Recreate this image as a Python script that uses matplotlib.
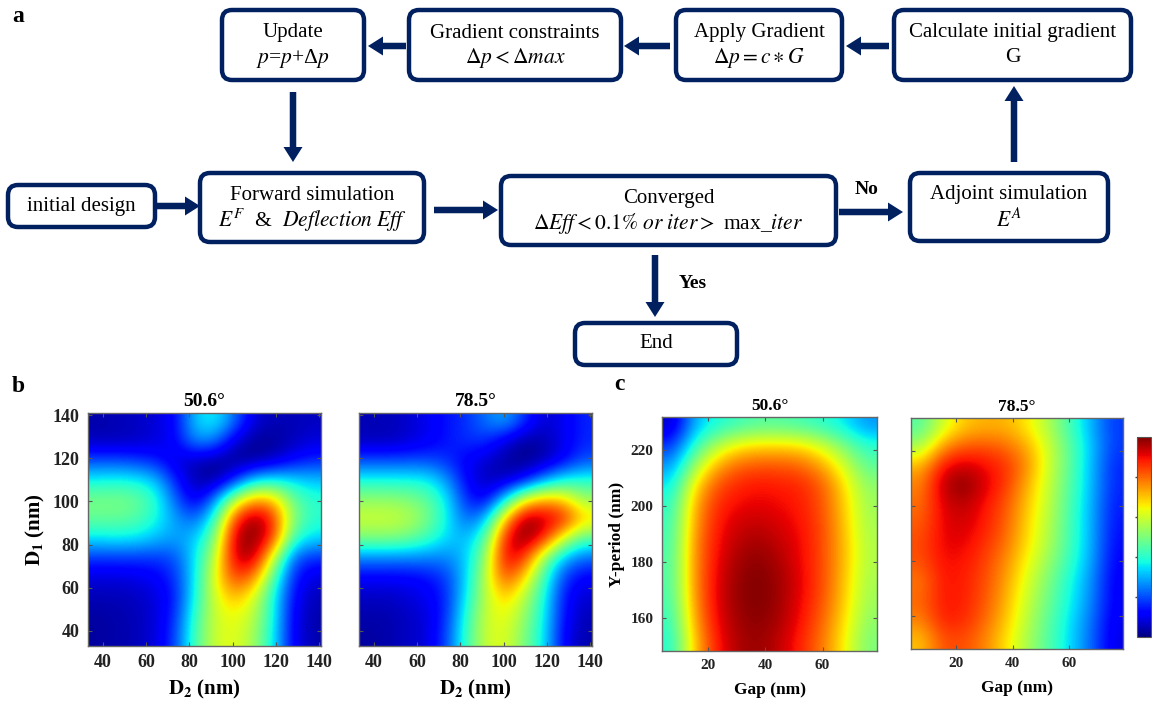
import numpy as np
import matplotlib.pyplot as plt
from matplotlib.patches import FancyBboxPatch, FancyArrow

plt.rcParams["font.family"] = "Liberation Serif"
plt.rcParams["mathtext.fontset"] = "stix"

navy = "#002060"

# ---- panel b : efficiency vs D2 (columns) and D1 (rows, top = 140 nm)
d2_nm = [37.5, 46.5, 55.5, 64.5, 73.5, 82.5, 91.5, 100.5, 109.5, 118.5, 127.5, 136.5]
d1_nm = [136.5, 127.5, 118.5, 109.5, 100.5, 91.5, 82.5, 73.5, 64.5, 55.5, 46.5, 37.5]

eff_b_506 = [
    [0.04, 0.05, 0.06, 0.08, 0.12, 0.33, 0.37, 0.24, 0.08, 0.05, 0.05, 0.06],
    [0.05, 0.05, 0.06, 0.08, 0.12, 0.27, 0.25, 0.08, 0.02, 0.02, 0.05, 0.08],
    [0.20, 0.20, 0.18, 0.15, 0.08, 0.05, 0.02, 0.01, 0.02, 0.06, 0.12, 0.16],
    [0.37, 0.38, 0.37, 0.32, 0.15, 0.04, 0.02, 0.15, 0.33, 0.37, 0.35, 0.32],
    [0.50, 0.50, 0.48, 0.40, 0.22, 0.08, 0.25, 0.57, 0.75, 0.72, 0.48, 0.40],
    [0.47, 0.47, 0.45, 0.38, 0.28, 0.22, 0.40, 0.85, 1.00, 0.88, 0.52, 0.40],
    [0.35, 0.36, 0.35, 0.31, 0.28, 0.32, 0.50, 0.95, 1.00, 0.86, 0.42, 0.34],
    [0.17, 0.17, 0.17, 0.17, 0.20, 0.35, 0.58, 0.93, 0.97, 0.60, 0.22, 0.16],
    [0.08, 0.08, 0.09, 0.11, 0.17, 0.36, 0.63, 0.85, 0.78, 0.45, 0.16, 0.08],
    [0.05, 0.05, 0.06, 0.08, 0.15, 0.38, 0.61, 0.72, 0.62, 0.38, 0.13, 0.05],
    [0.03, 0.04, 0.05, 0.08, 0.17, 0.42, 0.60, 0.64, 0.58, 0.38, 0.11, 0.04],
    [0.03, 0.04, 0.05, 0.08, 0.19, 0.44, 0.60, 0.63, 0.55, 0.36, 0.11, 0.04],
]

eff_b_785 = [
    [0.05, 0.05, 0.07, 0.10, 0.14, 0.17, 0.24, 0.30, 0.17, 0.07, 0.10, 0.16],
    [0.05, 0.05, 0.07, 0.10, 0.14, 0.17, 0.17, 0.08, 0.02, 0.04, 0.10, 0.16],
    [0.20, 0.20, 0.20, 0.20, 0.17, 0.11, 0.07, 0.03, 0.01, 0.04, 0.11, 0.20],
    [0.38, 0.38, 0.38, 0.37, 0.28, 0.12, 0.05, 0.05, 0.12, 0.27, 0.38, 0.40],
    [0.53, 0.53, 0.51, 0.47, 0.36, 0.16, 0.10, 0.35, 0.65, 0.75, 0.70, 0.54],
    [0.60, 0.60, 0.58, 0.50, 0.37, 0.22, 0.30, 0.72, 1.00, 0.95, 0.90, 0.70],
    [0.50, 0.50, 0.48, 0.42, 0.34, 0.30, 0.45, 0.90, 1.00, 0.88, 0.60, 0.44],
    [0.25, 0.25, 0.25, 0.25, 0.25, 0.32, 0.53, 0.93, 0.86, 0.52, 0.30, 0.22],
    [0.11, 0.11, 0.11, 0.13, 0.18, 0.33, 0.58, 0.84, 0.68, 0.42, 0.18, 0.11],
    [0.06, 0.06, 0.08, 0.10, 0.16, 0.36, 0.58, 0.70, 0.57, 0.38, 0.14, 0.07],
    [0.04, 0.04, 0.06, 0.08, 0.17, 0.40, 0.60, 0.64, 0.53, 0.36, 0.13, 0.05],
    [0.03, 0.04, 0.06, 0.08, 0.19, 0.42, 0.60, 0.62, 0.50, 0.35, 0.11, 0.04],
]

# ---- panel c : efficiency vs gap (columns) and Y-period (rows, top = 230 nm)
gap_nm = [7.75, 15.25, 22.75, 30.25, 37.75, 45.25, 52.75, 60.25, 67.75, 75.25]
yper_nm = [228.5, 221.5, 214.5, 207.5, 200.5, 193.5, 186.5, 179.5, 172.5, 165.5, 158.5, 151.5]

eff_c_506 = [
    [0.06, 0.30, 0.38, 0.42, 0.45, 0.45, 0.43, 0.40, 0.35, 0.27],
    [0.17, 0.40, 0.56, 0.65, 0.68, 0.68, 0.67, 0.60, 0.50, 0.40],
    [0.27, 0.53, 0.72, 0.80, 0.82, 0.82, 0.80, 0.73, 0.60, 0.46],
    [0.35, 0.66, 0.82, 0.87, 0.89, 0.88, 0.87, 0.81, 0.67, 0.52],
    [0.40, 0.72, 0.86, 0.90, 0.91, 0.90, 0.88, 0.82, 0.69, 0.54],
    [0.42, 0.74, 0.88, 0.93, 0.94, 0.92, 0.89, 0.83, 0.70, 0.55],
    [0.43, 0.76, 0.89, 0.95, 0.97, 0.94, 0.90, 0.83, 0.71, 0.56],
    [0.44, 0.76, 0.90, 0.97, 0.99, 0.96, 0.90, 0.83, 0.71, 0.56],
    [0.44, 0.76, 0.91, 0.98, 1.00, 0.97, 0.91, 0.83, 0.70, 0.55],
    [0.43, 0.75, 0.91, 0.98, 1.00, 0.97, 0.90, 0.82, 0.69, 0.54],
    [0.41, 0.73, 0.90, 0.97, 0.99, 0.96, 0.89, 0.80, 0.67, 0.52],
    [0.39, 0.70, 0.88, 0.96, 0.98, 0.94, 0.87, 0.78, 0.65, 0.50],
]

eff_c_785 = [
    [0.45, 0.60, 0.70, 0.72, 0.72, 0.66, 0.56, 0.43, 0.30, 0.18],
    [0.55, 0.76, 0.82, 0.83, 0.80, 0.73, 0.60, 0.46, 0.32, 0.18],
    [0.72, 0.90, 0.94, 0.90, 0.86, 0.76, 0.60, 0.46, 0.31, 0.16],
    [0.77, 0.95, 1.00, 0.92, 0.85, 0.72, 0.59, 0.45, 0.31, 0.16],
    [0.79, 0.92, 0.95, 0.89, 0.82, 0.70, 0.58, 0.44, 0.30, 0.15],
    [0.81, 0.91, 0.93, 0.88, 0.81, 0.68, 0.57, 0.43, 0.30, 0.14],
    [0.83, 0.91, 0.91, 0.86, 0.79, 0.67, 0.56, 0.43, 0.30, 0.13],
    [0.82, 0.90, 0.89, 0.84, 0.76, 0.64, 0.53, 0.41, 0.29, 0.12],
    [0.78, 0.89, 0.88, 0.83, 0.74, 0.61, 0.50, 0.38, 0.27, 0.11],
    [0.80, 0.89, 0.88, 0.82, 0.72, 0.59, 0.48, 0.37, 0.26, 0.11],
    [0.77, 0.88, 0.87, 0.80, 0.70, 0.57, 0.46, 0.35, 0.24, 0.10],
    [0.70, 0.83, 0.83, 0.77, 0.67, 0.55, 0.45, 0.34, 0.23, 0.09],
]

fig = plt.figure(figsize=(11.52, 7.07), dpi=100)

# flowchart drawn on a full-figure canvas in pixel units
fc = fig.add_axes([0, 0, 1, 1])
fc.set_xlim(0, 1152)
fc.set_ylim(707, 0)
fc.axis("off")

boxes = [
    (222, 10, 364, 80, ["Update", r"$p$=$p$+Δ$p$"]),
    (409, 10, 621, 80, ["Gradient constraints", r"$\Delta p < \Delta max$"]),
    (676, 10, 842, 80, ["Apply Gradient", r"$\Delta p = c \ast G$"]),
    (894, 10, 1131, 80, ["Calculate initial gradient", "G"]),
    (8, 185, 155, 227, ["initial design"]),
    (200, 173, 424, 242, ["Forward simulation", r"$E^F$  &  $Deflection\ Eff$"]),
    (501, 176, 836, 245, ["Converged", r"$\Delta Eff < 0.1\%\ or\ iter >$ max_$iter$"]),
    (910, 173, 1108, 241, ["Adjoint simulation", r"$E^A$"]),
    (575, 323, 737, 365, ["End"]),
]
for x0, y0, x1, y1, lines in boxes:
    fc.add_patch(FancyBboxPatch((x0, y0), x1 - x0, y1 - y0,
                                boxstyle="round,pad=0,rounding_size=10",
                                lw=3.2, ec=navy, fc="white"))
    cx, cy = (x0 + x1) / 2, (y0 + y1) / 2
    if len(lines) == 1:
        fc.text(cx, cy, lines[0], ha="center", va="center", fontsize=15)
    else:
        fc.text(cx, cy - 12, lines[0], ha="center", va="center", fontsize=15)
        fc.text(cx, cy + 13, lines[1], ha="center", va="center", fontsize=15.5)

arrows = [
    (406, 46, -38, 0), (670, 46, -46, 0), (889, 46, -43, 0),
    (1014, 162, 0, -76), (293, 92, 0, 70), (155, 206, 45, 0),
    (434, 210, 64, 0), (839, 212, 64, 0), (655, 255, 0, 62),
]
for x, y, dx, dy in arrows:
    fc.add_patch(FancyArrow(x, y, dx, dy, width=6.5, head_width=19, head_length=15,
                            length_includes_head=True, color=navy, lw=0))

fc.text(867, 190, "No", ha="center", va="center", fontsize=14, fontweight="bold")
fc.text(693, 283, "Yes", ha="center", va="center", fontsize=14, fontweight="bold")
fc.text(12, 17, "a", ha="left", va="center", fontsize=17, fontweight="bold")
fc.text(12, 386, "b", ha="left", va="center", fontsize=17, fontweight="bold")
fc.text(614, 385, "c", ha="left", va="center", fontsize=17, fontweight="bold")


def heat(rect, z, xc, yc, title, xticks, yticks, ylabels, xlabel, ylabel,
         tsize, lsize, titlesize, xpad):
    ax = fig.add_axes(rect)
    dx = xc[1] - xc[0]
    dy = yc[0] - yc[1]
    extent = [xc[0] - dx / 2, xc[-1] + dx / 2, yc[-1] - dy / 2, yc[0] + dy / 2]
    im = ax.imshow(np.array(z), cmap="jet", vmin=0, vmax=1, extent=extent,
                   origin="upper", aspect="auto", interpolation="bicubic")
    ax.set_xticks(xticks)
    ax.set_yticks(yticks)
    if not ylabels:
        ax.set_yticklabels([])
    ax.tick_params(direction="in", length=3, width=0.8, color="#555555",
                   top=True, right=True, labelsize=tsize, pad=6)
    for lab in ax.get_xticklabels() + ax.get_yticklabels():
        lab.set_fontweight("bold")
        lab.set_color("#222222")
    for s in ax.spines.values():
        s.set_color("#666666")
        s.set_linewidth(1.0)
    ax.set_title(title, fontsize=titlesize, fontweight="bold", pad=5)
    ax.set_xlabel(xlabel, fontsize=lsize, fontweight="bold", labelpad=xpad)
    if ylabel:
        ax.set_ylabel(ylabel, fontsize=lsize, fontweight="bold", labelpad=4)
    return ax, im


b_ticks = [40, 60, 80, 100, 120, 140]
heat([0.0764, 0.0863, 0.2023, 0.3296], eff_b_506, d2_nm, d1_nm, "50.6°",
     b_ticks, b_ticks, True, r"$\mathbf{D_2}$ (nm)", r"$\mathbf{D_1}$ (nm)", 13, 15, 14, 5)
heat([0.3116, 0.0863, 0.2023, 0.3296], eff_b_785, d2_nm, d1_nm, "78.5°",
     b_ticks, b_ticks, False, r"$\mathbf{D_2}$ (nm)", None, 13, 15, 14, 5)

c_xt = [20, 40, 60]
c_yt = [160, 180, 200, 220]
heat([0.5747, 0.0792, 0.1866, 0.331], eff_c_506, gap_nm, yper_nm, "50.6°",
     c_xt, c_yt, True, "Gap (nm)", "Y-period (nm)", 11, 12.5, 12.5, 7)
ax4, im4 = heat([0.7908, 0.0820, 0.184, 0.3267], eff_c_785, gap_nm, yper_nm, "78.5°",
                c_xt, c_yt, False, "Gap (nm)", None, 11, 12.5, 12.5, 7)

cax = fig.add_axes([0.987, 0.099, 0.0122, 0.283])
cb = fig.colorbar(im4, cax=cax)
cb.set_ticks([0.2, 0.4, 0.6, 0.8])
cb.ax.yaxis.set_ticks_position("left")
cb.ax.tick_params(length=1.5, width=1, color="#444444", labelleft=False, labelright=False)
cb.outline.set_edgecolor("#555555")

fig.savefig("out.png", dpi=100)
